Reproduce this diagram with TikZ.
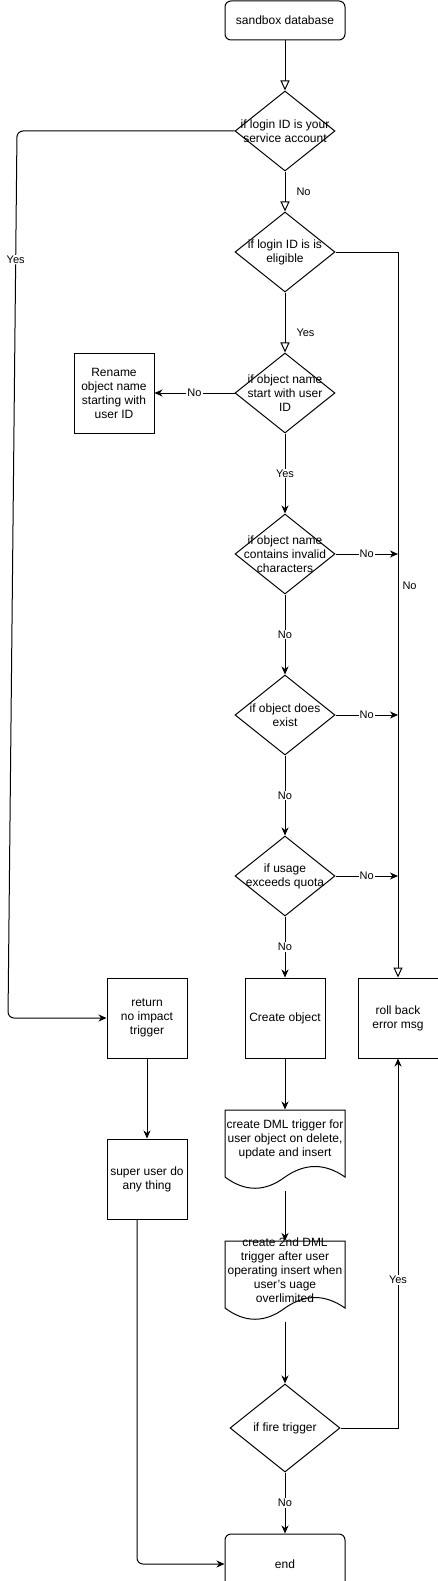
\documentclass[tikz,border=0pt]{standalone}
\usepackage{fontspec}
\setmainfont{Liberation Sans}
\usetikzlibrary{positioning}
\usetikzlibrary{calc}
\usetikzlibrary{shapes.geometric}
\usetikzlibrary{arrows.meta}
\tikzset{startstop/.style={draw, rounded corners=6pt, minimum width=120pt, minimum height=39pt, align=center, font=\fontsize{12pt}{14pt}\selectfont}}
\tikzset{process/.style={draw, minimum width=80pt, minimum height=80pt, inner sep=1pt, align=center, font=\fontsize{12pt}{14pt}\selectfont}}
\tikzset{decision/.style={draw, diamond, minimum width=100pt, minimum height=80pt, inner sep=0pt}}
\tikzset{dtext/.style={align=center, inner sep=0pt, font=\fontsize{12pt}{14pt}\selectfont}}
\tikzset{docbox/.style={minimum width=120pt, minimum height=58pt, inner sep=0pt, align=center, font=\fontsize{12pt}{14pt}\selectfont}}
\tikzset{lbl/.style={fill=white, inner sep=1pt, font=\fontsize{11pt}{13pt}\selectfont}}
\tikzset{openarr/.style={-{Triangle[open, length=10pt, width=9pt]}}}
\tikzset{arr/.style={-{Stealth[length=8pt, width=7pt, inset=2.5pt]}}}

\begin{document}
\begin{tikzpicture}[x=1pt, y=-1pt, line width=1pt, node distance=40pt and 40pt]
\useasboundingbox (0,0) rectangle (438,1581);
\node[startstop] (start) at (285,20.5) {sandbox database};
\node[decision, below=50pt of start, label={[dtext]center:{if login ID is your\\service account}}] (login) {};
\node[decision, below=40pt of login, label={[dtext]center:{if login ID is is\\eligible}}] (elig) {};
\node[decision, below=60pt of elig, label={[dtext]center:{if object name\\start with user\\ID}}] (prefix) {};
\node[process, left=80pt of prefix] (rename) {Rename\\object name\\starting with\\user ID};
\node[decision, below=80pt of prefix, label={[dtext]center:{if object name\\contains invalid\\characters}}] (chars) {};
\node[decision, below=80pt of chars, label={[dtext]center:{if object does\\exist}}] (exist) {};
\node[decision, below=80pt of exist, label={[dtext]center:{if usage\\exceeds quota}}] (quota) {};
\node[process, below=61pt of quota] (create) {Create object};
\node[process, left=57pt of create] (ret) {return\\no impact\\trigger};
\node[process, right=32pt of create] (roll) {roll back\\error msg};
\node[process, below=80pt of ret] (super) {super user do\\any thing};
\node[docbox, below=51pt of create] (dml) {create DML trigger for\\user object on delete,\\update and insert};
\node[docbox] (dml2) at ($(dml)+(0,131)$) {create 2nd DML\\trigger after user\\operating insert when\\user's uage\\overlimited};
\node[decision, minimum width=110pt, minimum height=88pt, label={[dtext]center:{if fire trigger}}] (fire) at ($(dml2)+(0,158)$) {};
\node[startstop, minimum height=60pt, below=61pt of fire] (stop) {end};
\coordinate (yesA) at (17,0);
\coordinate (yesB) at (8,0);
%
\foreach \n in {dml,dml2}
  \draw ($(\n)+(-60,-29)$) -- ($(\n)+(60,-29)$) -- ($(\n)+(60,38)$)
    .. controls ($(\n)+(40,24)$) and ($(\n)+(20,24)$) .. ($(\n)+(0,38)$)
    .. controls ($(\n)+(-20,53)$) and ($(\n)+(-40,53)$) .. ($(\n)+(-60,38)$) -- cycle;
%
\draw[openarr] (start) -- (login);
\draw[openarr] (login) -- node[lbl, right=10pt] {No} (elig);
\draw[openarr] (elig) -- node[lbl, right=10pt, pos=0.67] {Yes} (prefix);
\draw[openarr] (elig.east) -| node[lbl, right=3pt, pos=0.73] {No} (roll.north);
\draw[arr, rounded corners=6pt] (login.west) -- (login.west -| yesA) -- node[lbl, pos=0.145] {Yes} (ret.west -| yesB) -- (ret.west);
\draw[arr] (prefix) -- node[lbl] {No} (rename);
\draw[arr] (prefix) -- node[lbl] {Yes} (chars);
\draw[arr] (chars) -- node[lbl] {No} (exist);
\draw[arr] (exist) -- node[lbl] {No} (quota);
\draw[arr] (quota) -- node[lbl] {No} (create);
\draw[arr] (chars.east) -- node[lbl] {No} (chars.east -| roll.north);
\draw[arr] (exist.east) -- node[lbl] {No} (exist.east -| roll.north);
\draw[arr] (quota.east) -- node[lbl] {No} (quota.east -| roll.north);
\draw[arr] (ret) -- (super);
\draw[arr] (create) -- (dml);
\draw[arr] ($(dml)+(0,52)$) -- ($(dml2)+(0,-29)$);
\draw[arr] ($(dml2)+(0,52)$) -- (fire);
\draw[arr] (fire.east) -| node[lbl, pos=0.7] {Yes} (roll.south);
\draw[arr] (fire) -- node[lbl] {No} (stop);
\draw[arr, rounded corners=6pt] ([xshift=-10pt]super.south) |- (stop.west);
\end{tikzpicture}
\end{document}
